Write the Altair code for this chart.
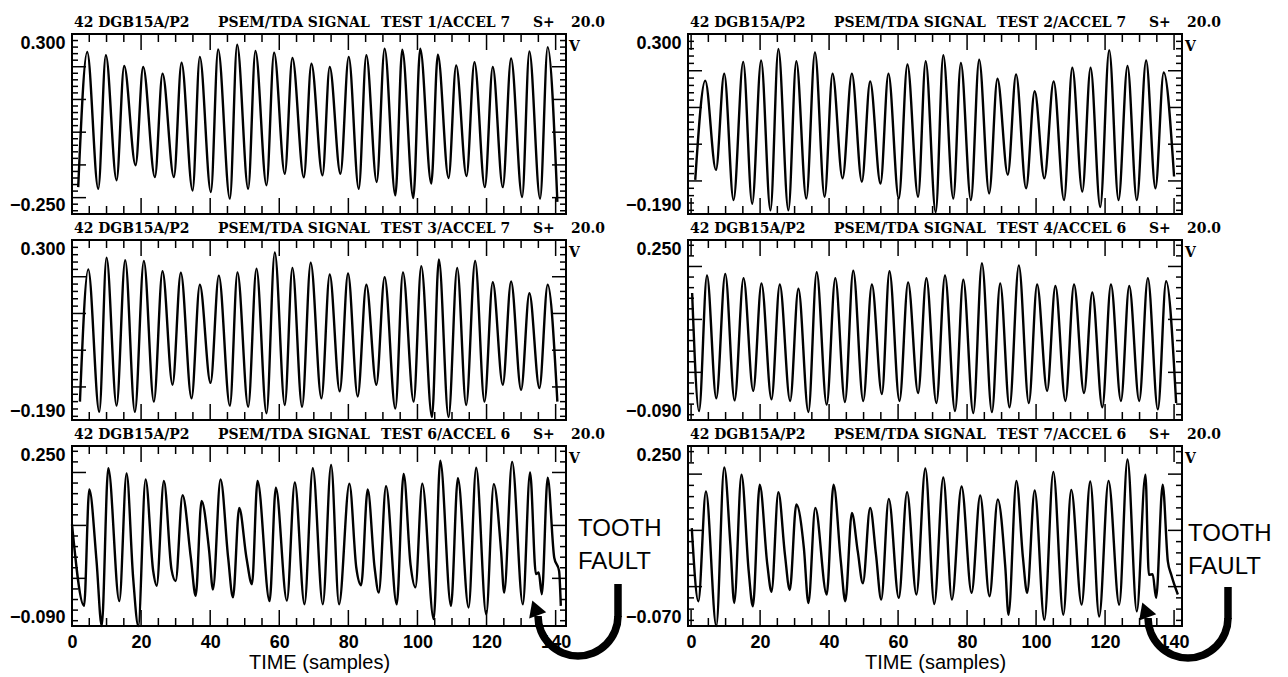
import math
import altair as alt
import pandas as pd

# ---------------- values ----------------
X_LABELS = [0, 20, 40, 60, 80, 100, 120, 140]
HEAD = "42 DGB15A/P2"
SIGNAL = "PSEM/TDA SIGNAL"
SENS = "S+"
GAIN = "20.0"
UNIT = "V"
TESTS = ["TEST 1/ACCEL 7", "TEST 2/ACCEL 7", "TEST 3/ACCEL 7",
         "TEST 4/ACCEL 6", "TEST 6/ACCEL 6", "TEST 7/ACCEL 6"]
Y_RANGES = [(-0.250, 0.300), (-0.190, 0.300), (-0.190, 0.300),
            (-0.090, 0.250), (-0.090, 0.250), (-0.070, 0.250)]
FAULT_TEXT = ["TOOTH", "FAULT"]
X_TITLE = "TIME (samples)"

# panel 1 (TEST 1)
P1_LEAD_T = [1.8]
P1_LEAD_V = [-0.168]
P1_PEAK_T = [4.4, 9.8, 15.1, 20.6, 26.2, 31.7, 37.0, 42.3, 47.8, 53.1, 58.5, 63.8, 69.3,
             74.6, 80.1, 85.2, 90.5, 95.6, 100.8, 105.9, 111.2, 116.5, 121.8, 127.1, 132.4, 137.7]
P1_PEAK_V = [0.245, 0.235, 0.202, 0.199, 0.179, 0.212, 0.230, 0.253, 0.267, 0.248, 0.243, 0.227, 0.209,
             0.199, 0.230, 0.235, 0.255, 0.252, 0.255, 0.237, 0.204, 0.214, 0.199, 0.225, 0.247, 0.260]
P1_TROUGH_T = [7.6, 12.9, 18.4, 24.0, 29.5, 34.9, 40.2, 45.7, 51.0, 56.3, 61.6, 67.1, 72.5,
               77.7, 83.0, 88.2, 93.6, 98.8, 104.0, 109.0, 114.2, 119.5, 124.7, 130.3, 135.5, 140.5]
P1_TROUGH_V = [-0.173, -0.147, -0.101, -0.137, -0.137, -0.178, -0.183, -0.203, -0.173, -0.162, -0.127, -0.138, -0.132,
               -0.127, -0.173, -0.152, -0.193, -0.201, -0.157, -0.140, -0.134, -0.168, -0.168, -0.198, -0.203, -0.213]

# panel 2 (TEST 2)
P2_LEAD_T = [1.2]
P2_LEAD_V = [-0.097]
P2_PEAK_T = [4.1, 9.6, 15.1, 20.3, 25.3, 30.5, 35.9, 41.0, 46.6, 51.9, 57.2, 62.7, 68.0,
             73.1, 78.2, 83.5, 88.8, 94.2, 99.6, 105.1, 110.5, 115.8, 121.2, 126.5, 131.9, 137.0]
P2_PEAK_V = [0.173, 0.192, 0.224, 0.228, 0.259, 0.226, 0.250, 0.192, 0.192, 0.171, 0.192, 0.217, 0.226,
             0.242, 0.221, 0.230, 0.178, 0.190, 0.144, 0.171, 0.208, 0.208, 0.256, 0.213, 0.228, 0.195]
P2_TROUGH_T = [7.2, 12.3, 17.7, 23.0, 28.2, 33.4, 38.7, 43.9, 49.5, 54.9, 60.2, 65.8, 70.9,
               76.0, 81.1, 86.4, 91.8, 97.1, 102.4, 108.1, 113.4, 118.6, 123.9, 129.2, 134.6, 140.0]
P2_TROUGH_V = [-0.070, -0.152, -0.162, -0.180, -0.180, -0.148, -0.143, -0.093, -0.102, -0.107, -0.148, -0.143, -0.185,
               -0.148, -0.152, -0.134, -0.083, -0.120, -0.093, -0.152, -0.129, -0.171, -0.152, -0.152, -0.120, -0.088]

# panel 3 (TEST 3)
P3_LEAD_T = [2.3]
P3_LEAD_V = [-0.140]
P3_PEAK_T = [4.7, 10.0, 15.4, 20.8, 26.2, 31.5, 37.0, 42.5, 47.9, 53.4, 58.7, 63.8, 69.1,
             74.6, 79.9, 85.2, 90.5, 95.8, 101.1, 106.2, 111.5, 116.7, 121.8, 127.1, 132.4, 137.7]
P3_PEAK_V = [0.220, 0.252, 0.245, 0.243, 0.215, 0.211, 0.178, 0.203, 0.212, 0.222, 0.266, 0.224, 0.238,
             0.206, 0.209, 0.178, 0.199, 0.212, 0.229, 0.247, 0.224, 0.243, 0.185, 0.187, 0.155, 0.178]
P3_TROUGH_T = [7.9, 12.9, 18.2, 23.7, 29.1, 34.6, 40.1, 45.7, 51.0, 56.3, 61.6, 66.6, 72.2,
               77.5, 82.7, 88.1, 93.6, 98.9, 104.2, 109.0, 114.1, 119.4, 124.7, 130.0, 135.3, 140.5]
P3_TROUGH_V = [-0.168, -0.151, -0.168, -0.140, -0.094, -0.131, -0.089, -0.151, -0.154, -0.172, -0.149, -0.154, -0.131,
               -0.112, -0.126, -0.094, -0.159, -0.140, -0.182, -0.182, -0.149, -0.140, -0.094, -0.108, -0.103, -0.140]

# panel 4 (TEST 4)
P4_LEAD_T = [0.3, 2.3]
P4_LEAD_V = [0.150, -0.073]
P4_PEAK_T = [4.6, 9.9, 15.2, 20.4, 25.7, 31.1, 36.4, 41.8, 47.0, 52.4, 57.5, 62.9, 68.2,
             73.6, 78.9, 84.3, 89.6, 95.0, 100.3, 105.6, 111.0, 116.3, 121.7, 127.0, 132.4, 137.7]
P4_PEAK_V = [0.183, 0.186, 0.178, 0.168, 0.166, 0.158, 0.189, 0.178, 0.192, 0.166, 0.191, 0.170, 0.178,
             0.183, 0.175, 0.206, 0.168, 0.202, 0.166, 0.163, 0.166, 0.151, 0.166, 0.163, 0.178, 0.172]
P4_TROUGH_T = [7.3, 12.6, 18.0, 23.3, 28.7, 34.0, 39.3, 44.6, 49.9, 55.3, 60.4, 65.8, 71.1,
               76.5, 81.8, 87.2, 92.3, 97.9, 103.2, 108.5, 113.9, 119.2, 124.6, 129.9, 135.3, 140.6]
P4_TROUGH_V = [-0.049, -0.053, -0.035, -0.051, -0.054, -0.075, -0.061, -0.056, -0.054, -0.041, -0.054, -0.039, -0.058,
               -0.073, -0.077, -0.075, -0.066, -0.058, -0.035, -0.054, -0.039, -0.066, -0.054, -0.054, -0.070, -0.058]

# panel 5 (TEST 6) - turning points incl. shoulders and the tooth-fault notch
P5_T = [0, 3.5, 5.0, 7.1, 8.6, 10.5, 13.7, 15.8, 17.7, 19.2, 21.3, 23.5, 24.5, 26.6, 28.8,
        30.0, 32.0, 34.4, 35.8, 37.5, 39.7, 40.8, 43.0, 45.2, 46.6, 48.4, 50.5, 52.1, 53.7, 57.2,
        59.0, 62.2, 64.5, 67.3, 69.7, 72.6, 75.0, 77.3, 80.3, 82.3, 83.7, 85.6, 87.6, 88.8, 90.9,
        94.0, 96.0, 98.0, 99.4, 101.4, 104.7, 106.6, 109.7, 111.7, 114.8, 117.0, 119.9, 122.1, 124.2, 125.1,
        127.4, 130.5, 132.6, 134.3, 135.1, 136.0, 137.7, 139.6, 141.0, 141.5]
P5_V = [0.102, -0.052, 0.168, 0.033, -0.090, 0.208, -0.043, 0.198, 0.001, -0.090, 0.187, 0.014, -0.014, 0.184, 0.017,
        -0.005, 0.157, 0.039, -0.033, 0.146, 0.052, -0.021, 0.187, 0.039, -0.036, 0.133, 0.039, -0.011, 0.184, -0.043,
        0.171, -0.042, 0.181, -0.049, 0.208, -0.049, 0.214, -0.049, 0.179, 0.020, -0.013, 0.168, 0.020, -0.027, 0.174,
        -0.049, 0.197, 0.026, -0.017, 0.179, -0.077, 0.222, -0.052, 0.189, -0.055, 0.209, -0.068, 0.178, 0.052, -0.027,
        0.220, -0.049, 0.200, 0.008, 0.011, -0.030, 0.190, 0.039, 0.014, -0.052]

# panel 6 (TEST 7)
P6_T = [0.2, 2.1, 4.3, 7.3, 9.6, 11.4, 12.5, 14.6, 16.7, 17.9, 19.9, 22.1, 23.3, 25.3, 27.2,
        28.6, 30.5, 32.7, 34.0, 36.0, 39.3, 41.3, 43.4, 44.7, 46.6, 48.3, 49.8, 51.9, 53.6, 55.1,
        57.3, 60.2, 62.6, 65.3, 67.9, 70.5, 73.1, 75.6, 78.4, 81.3, 83.8, 86.5, 88.9, 91.1, 92.0,
        94.3, 96.2, 97.4, 99.6, 102.4, 105.0, 107.9, 110.2, 113.2, 115.7, 118.3, 121.0, 124.1, 126.5, 129.2,
        131.7, 132.7, 133.8, 134.8, 136.7, 138.2, 139.2, 141.1]
P6_V = [0.104, -0.026, 0.169, -0.070, 0.212, 0.074, -0.029, 0.199, 0.027, -0.035, 0.181, 0.039, -0.009, 0.168, 0.057,
        -0.006, 0.146, 0.068, -0.029, 0.140, -0.014, 0.181, 0.045, -0.026, 0.131, 0.063, 0.006, 0.140, 0.057, -0.023,
        0.156, -0.020, 0.168, -0.014, 0.210, -0.031, 0.194, -0.023, 0.178, -0.011, 0.162, -0.017, 0.155, 0.033, -0.050,
        0.188, 0.051, -0.011, 0.171, -0.059, 0.204, -0.050, 0.172, -0.032, 0.187, -0.053, 0.188, -0.032, 0.226, -0.044,
        0.199, 0.021, 0.022, -0.020, 0.181, 0.045, 0.021, -0.014]

# ---------------- layout / style ----------------
SANS = "Liberation Sans, Arial, Helvetica, sans-serif"
SERIF = "DejaVu Serif Condensed, DejaVu Serif, serif"
W, H = 494, 180
X_DOM_LEFT = [0, 143.0]
X_DOM_RIGHT = [-0.9, 142.3]
TITLE_X = [2, 146, 309, 461, 499]
TITLE_Y = -7
X_TICK_STEP, X_TICK_MAJOR = 5, 20
Y_TICK_STEP = 0.02
ONE = pd.DataFrame({"k": [0]})


def frame(parts):
    t, v = [], []
    for pt, pv in parts:
        t += list(pt)
        v += list(pv)
    return pd.DataFrame({"t": t, "v": v}).sort_values("t").reset_index(drop=True)


def text_layer(txt, x, y, **kw):
    return alt.Chart(ONE).mark_text(text=txt, **kw).encode(x=alt.value(x), y=alt.value(y))


def tick_layers(xs, ys, ylo, yhi):
    xt = pd.DataFrame({"t": list(range(0, 141, X_TICK_STEP))})
    xt_major = xt[xt.t % X_TICK_MAJOR == 0]
    xt_minor = xt[xt.t % X_TICK_MAJOR != 0]
    ks = range(math.ceil(ylo / Y_TICK_STEP + 1e-9), math.floor(yhi / Y_TICK_STEP - 1e-9) + 1)
    yt = pd.DataFrame({"v": [round(k * Y_TICK_STEP, 3) for k in ks]})
    is_major = (yt.v * 10 - (yt.v * 10).round()).abs() < 1e-6
    yt_major, yt_minor = yt[is_major], yt[~is_major]
    rule = dict(color="black", strokeWidth=1.5)
    out = []
    for d, ln in ((xt_minor, 8), (xt_major, 16)):
        base = alt.Chart(d).mark_rule(**rule)
        out.append(base.encode(x=alt.X("t:Q", scale=xs, axis=None), y=alt.value(0), y2=alt.value(ln)))
        out.append(base.encode(x=alt.X("t:Q", scale=xs, axis=None), y=alt.value(H), y2=alt.value(H - ln)))
    for d, ln in ((yt_minor, 6), (yt_major, 14)):
        base = alt.Chart(d).mark_rule(**rule)
        out.append(base.encode(y=alt.Y("v:Q", scale=ys, axis=None), x=alt.value(0), x2=alt.value(ln)))
        out.append(base.encode(y=alt.Y("v:Q", scale=ys, axis=None), x=alt.value(W), x2=alt.value(W - ln)))
    return out


def fault_layers(tx, ty, cx, cy, r, top):
    th2 = 1.5 * math.pi
    ex = cx + r * math.sin(th2)
    ey = cy - r * math.cos(th2)
    txt = text_layer(FAULT_TEXT, tx, ty, align="left", baseline="alphabetic", font=SANS,
                     fontSize=24, lineHeight=33, color="black")
    arc = alt.Chart(ONE).mark_arc(color="black", theta=math.pi / 2, theta2=th2,
                                  radius=r + 3.8, radius2=r - 3.8).encode(
        x=alt.value(cx), y=alt.value(cy))
    stem = alt.Chart(ONE).mark_rule(color="black", strokeWidth=7.5).encode(
        x=alt.value(cx + r), y=alt.value(top), y2=alt.value(cy + 1))
    head = alt.Chart(ONE).mark_point(shape="triangle-up", filled=True, size=330, color="black",
                                     opacity=1, angle=340).encode(
        x=alt.value(ex - 3), y=alt.value(ey - 8))
    return [txt, arc, stem, head]


def panel(df, yr, xdom, test, bottom, fault=None):
    ylo, yhi = yr
    xs = alt.Scale(domain=xdom, nice=False, zero=False)
    ys = alt.Scale(domain=[ylo, yhi], nice=False, zero=False)
    if bottom:
        xaxis = alt.Axis(orient="bottom", values=X_LABELS, format="d", ticks=False, domain=False,
                         grid=False, labelFlush=False, labelFont=SANS, labelFontSize=18,
                         labelFontWeight="bold", labelColor="black", labelPadding=7,
                         title=X_TITLE, titleFont=SANS, titleFontSize=20,
                         titleFontWeight="normal", titleColor="black", titlePadding=1)
    else:
        xaxis = None
    yaxis = alt.Axis(orient="left", values=[ylo, yhi], format=".3f", ticks=False, domain=False,
                     grid=False, labelFlush=True, labelFont=SANS, labelFontSize=18,
                     labelFontWeight="bold", labelColor="black", labelPadding=7, title=None)
    line = alt.Chart(df).mark_line(color="black", strokeWidth=2.4, interpolate="monotone").encode(
        x=alt.X("t:Q", scale=xs, axis=xaxis), y=alt.Y("v:Q", scale=ys, axis=yaxis))

    tstyle = dict(align="left", baseline="alphabetic", font=SERIF, fontSize=15.5,
                  fontWeight="bold", color="black")
    titles = [text_layer(s, x, TITLE_Y, **tstyle)
              for s, x in zip([HEAD, SIGNAL, test, SENS, GAIN], TITLE_X)]
    vlab = text_layer(UNIT, W + 3, 17, **tstyle)
    layers = [line] + tick_layers(xs, ys, ylo, yhi) + titles + [vlab]
    if fault is not None:
        layers += fault_layers(*fault)
    return alt.layer(*layers).resolve_axis(x="independent", y="independent").properties(
        width=W, height=H)


d1 = frame([(P1_LEAD_T, P1_LEAD_V), (P1_PEAK_T, P1_PEAK_V), (P1_TROUGH_T, P1_TROUGH_V)])
d2 = frame([(P2_LEAD_T, P2_LEAD_V), (P2_PEAK_T, P2_PEAK_V), (P2_TROUGH_T, P2_TROUGH_V)])
d3 = frame([(P3_LEAD_T, P3_LEAD_V), (P3_PEAK_T, P3_PEAK_V), (P3_TROUGH_T, P3_TROUGH_V)])
d4 = frame([(P4_LEAD_T, P4_LEAD_V), (P4_PEAK_T, P4_PEAK_V), (P4_TROUGH_T, P4_TROUGH_V)])
d5 = frame([(P5_T, P5_V)])
d6 = frame([(P6_T, P6_V)])

p1 = panel(d1, Y_RANGES[0], X_DOM_LEFT, TESTS[0], False)
p2 = panel(d2, Y_RANGES[1], X_DOM_RIGHT, TESTS[1], False)
p3 = panel(d3, Y_RANGES[2], X_DOM_LEFT, TESTS[2], False)
p4 = panel(d4, Y_RANGES[3], X_DOM_RIGHT, TESTS[3], False)
p5 = panel(d5, Y_RANGES[4], X_DOM_LEFT, TESTS[4], True, fault=(506, 90, 506, 170, 40, 138))
p6 = panel(d6, Y_RANGES[5], X_DOM_RIGHT, TESTS[5], True, fault=(500, 95, 500, 172, 40, 141))

chart = alt.concat(p1, p2, p3, p4, p5, p6, columns=2,
                   spacing={"row": 26, "column": 122}, bounds="flush").properties(
    padding={"left": 0, "top": 6, "right": 2, "bottom": 0}, background="white"
).configure_view(stroke="black", strokeWidth=2)

chart.save("out.html", embed_options={"renderer": "svg", "actions": False})
